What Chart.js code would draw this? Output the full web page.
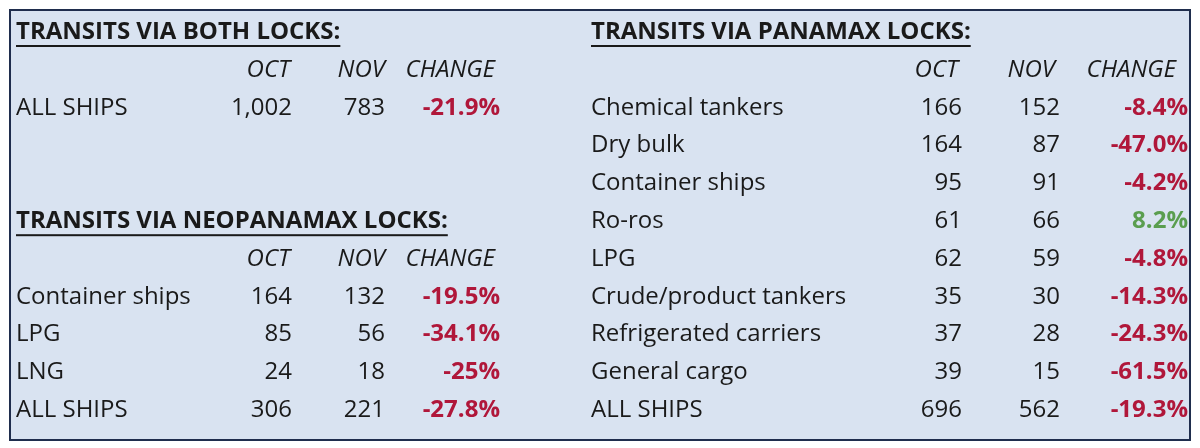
<!DOCTYPE html>
<html>
<head>
<meta charset="utf-8">
<script src="https://cdn.jsdelivr.net/npm/chart.js@4"></script>
<style>
  html, body { margin: 0; padding: 0; background: #ffffff; }
  #wrap { width: 1200px; height: 448px; position: relative; }
</style>
</head>
<body>
<div id="wrap"><canvas id="tbl"></canvas></div>
<script>
// Table data
const bothCategories = ['ALL SHIPS'];
const bothOct = ['1,002'];
const bothNov = ['783'];
const bothChange = ['-21.9%'];

const neoCategories = ['Container ships', 'LPG', 'LNG', 'ALL SHIPS'];
const neoOct = ['164', '85', '24', '306'];
const neoNov = ['132', '56', '18', '221'];
const neoChange = ['-19.5%', '-34.1%', '-25%', '-27.8%'];

const panCategories = ['Chemical tankers', 'Dry bulk', 'Container ships', 'Ro-ros', 'LPG',
  'Crude/product tankers', 'Refrigerated carriers', 'General cargo', 'ALL SHIPS'];
const panOct = ['166', '164', '95', '61', '62', '35', '37', '39', '696'];
const panNov = ['152', '87', '91', '66', '59', '30', '28', '15', '562'];
const panChange = ['-8.4%', '-47.0%', '-4.2%', '8.2%', '-4.8%', '-14.3%', '-24.3%', '-61.5%', '-19.3%'];

const colHeaders = ['OCT', 'NOV', 'CHANGE'];

const FONT = '"Open Sans", "Liberation Sans", sans-serif';
const RED = '#b0173a';
const GREEN = '#5a9e4f';
const INK = '#1a1a1a';

// Row positions on a 0..448 value scale
function rowY(i) { return 70 + i * 37.8; }

const tablePlugin = {
  id: 'tablePlugin',
  afterDraw(chart) {
    const c = chart.ctx, xs = chart.scales.x, ys = chart.scales.y;
    const X = v => xs.getPixelForValue(v), Y = v => ys.getPixelForValue(v);
    c.save();
    // background + border
    c.fillStyle = '#d9e3f1';
    c.fillRect(X(10), Y(10), X(1190) - X(10), Y(440) - Y(10));
    c.strokeStyle = '#1f2d4d';
    c.lineWidth = 2;
    c.strokeRect(X(10), Y(10), X(1190) - X(10), Y(440) - Y(10));
    c.textBaseline = 'middle';

    function heading(text, x, y) {
      c.font = 'bold 24px ' + FONT;
      c.fillStyle = INK;
      c.textAlign = 'left';
      c.fillText(text, X(x), Y(y));
      const w = c.measureText(text).width;
      c.fillRect(X(x), Y(y) + 13, w, 2);
    }
    function headers(y, cols) {
      c.font = 'italic 24px ' + FONT;
      c.fillStyle = INK;
      c.textAlign = 'right';
      colHeaders.forEach((h, k) => c.fillText(h, X(cols[k]), Y(y)));
    }
    function rows(startRow, x0, cols, cats, oct, nov, chg) {
      cats.forEach((cat, i) => {
        const y = Y(rowY(startRow + i));
        c.font = '24px ' + FONT;
        c.fillStyle = INK;
        c.textAlign = 'left';
        c.fillText(cat, X(x0), y);
        c.textAlign = 'right';
        c.fillText(oct[i], X(cols[0]), y);
        c.fillText(nov[i], X(cols[1]), y);
        c.font = 'bold 24px ' + FONT;
        c.fillStyle = chg[i].startsWith('-') ? RED : GREEN;
        c.fillText(chg[i], X(cols[2]), y);
      });
    }
    const leftCols = [292, 385, 500];
    const rightCols = [962, 1060, 1188];
    const leftHdr = [290, 385, 495];
    const rightHdr = [958, 1055, 1176];

    heading('TRANSITS VIA BOTH LOCKS:', 16, 32);
    headers(rowY(0), leftHdr);
    rows(1, 16, leftCols, bothCategories, bothOct, bothNov, bothChange);

    heading('TRANSITS VIA NEOPANAMAX LOCKS:', 16, rowY(4));
    headers(rowY(5), leftHdr);
    rows(6, 16, leftCols, neoCategories, neoOct, neoNov, neoChange);

    heading('TRANSITS VIA PANAMAX LOCKS:', 591, 32);
    headers(rowY(0), rightHdr);
    rows(1, 591, rightCols, panCategories, panOct, panNov, panChange);
    c.restore();
  }
};

new Chart(document.getElementById('tbl'), {
  type: 'scatter',
  data: { datasets: [{ data: [] }] },
  options: {
    responsive: true,
    maintainAspectRatio: false,
    animation: false,
    layout: { padding: 0 },
    plugins: { legend: { display: false }, tooltip: { enabled: false } },
    scales: {
      x: { type: 'linear', min: 0, max: 1200, display: false },
      y: { type: 'linear', min: 0, max: 448, reverse: true, display: false }
    }
  },
  plugins: [tablePlugin]
});
</script>
</body>
</html>
